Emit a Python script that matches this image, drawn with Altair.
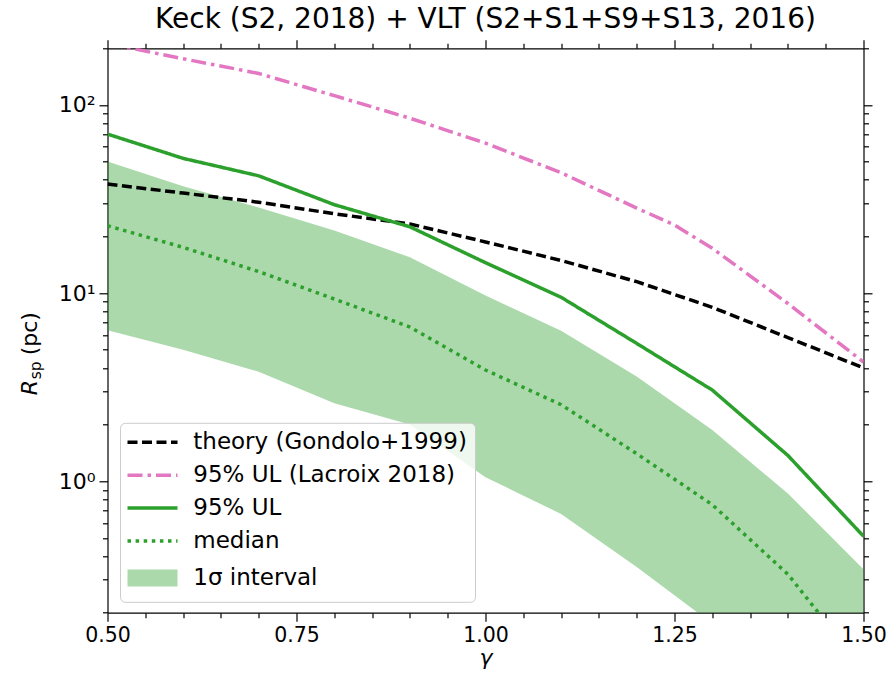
import altair as alt
import pandas as pd

# gamma grid of the scan and the curves drawn on it
gamma = [0.5, 0.6, 0.7, 0.8, 0.9, 1.0, 1.1, 1.2, 1.3, 1.4, 1.5]
theory = [38.0, 34.0, 30.4, 26.4, 23.3, 18.7, 14.9, 11.5, 8.4, 5.8, 4.0]
ul95 = [70.0, 52.0, 42.0, 29.5, 22.5, 14.5, 9.5, 5.4, 3.05, 1.37, 0.51]
median = [22.8, 17.5, 13.0, 9.3, 6.6, 3.9, 2.55, 1.4, 0.75, 0.32, 0.1]
band_lo = [6.35, 5.0, 3.82, 2.6, 2.0, 1.05, 0.67, 0.35, 0.175, 0.08, 0.035]
band_hi = [50.0, 37.0, 28.5, 21.5, 15.5, 9.7, 6.3, 3.6, 1.87, 0.86, 0.34]

lacroix_gamma = [0.5, 0.6, 0.7, 0.8, 0.9, 1.0, 1.1, 1.2, 1.25, 1.3, 1.4, 1.5]
lacroix = [212.0, 176.0, 147.0, 112.0, 85.0, 62.7, 43.6, 28.3, 23.0, 17.3, 8.8, 4.3]

labels = ["theory (Gondolo+1999)", "95% UL (Lacroix 2018)", "95% UL",
          "median", "1σ interval"]
colors = ["#000000", "#e377c2", "#2ca02c", "#2ca02c", "rgba(44,160,44,0.4)"]
# the band entry gets an all-gap dash so its legend swatch shows no outline
dashes = [[10, 4.5], [15, 5, 3.5, 5], [1, 0], [3.5, 4.6], [0, 1000]]

# tick positions (major ones carry labels)
x_major = [0.5, 0.75, 1.0, 1.25, 1.5]
x_minor = [0.55, 0.6, 0.65, 0.7, 0.8, 0.85, 0.9, 0.95,
           1.05, 1.1, 1.15, 1.2, 1.3, 1.35, 1.4, 1.45]
y_major = [1, 10, 100]
y_minor = [0.2, 0.3, 0.4, 0.5, 0.6, 0.7, 0.8, 0.9,
           2, 3, 4, 5, 6, 7, 8, 9,
           20, 30, 40, 50, 60, 70, 80, 90, 200]

lines = pd.concat([
    pd.DataFrame({"gamma": gamma, "R": theory, "series": labels[0]}),
    pd.DataFrame({"gamma": lacroix_gamma, "R": lacroix, "series": labels[1]}),
    pd.DataFrame({"gamma": gamma, "R": ul95, "series": labels[2]}),
    pd.DataFrame({"gamma": gamma, "R": median, "series": labels[3]}),
], ignore_index=True)
band = pd.DataFrame({"gamma": gamma, "lo": band_lo, "hi": band_hi,
                     "series": labels[4]})

FONT = "DejaVu Sans"
MAJOR, MINOR = 8.5, 5
x_scale = alt.Scale(domain=[0.5, 1.5], nice=False, zero=False)
y_scale = alt.Scale(type="log", domain=[0.2, 200], nice=False)
color_scale = alt.Scale(domain=labels, range=colors)
dash_scale = alt.Scale(domain=labels, range=dashes)


def tick_axis(orient, values, size, **kw):
    opts = dict(orient=orient, values=values, grid=False,
                domainColor="black", domainWidth=1.2,
                tickColor="black", tickWidth=1.2, tickSize=size)
    opts.update(kw)
    if "title" not in opts:
        opts["title"] = None
    return alt.Axis(**opts)


is_band = "datum.value == '1σ interval'"
legend = alt.Legend(
    title=None, orient="none", legendX=12.5, legendY=374.5,
    symbolType={"expr": f"{is_band} ? 'M-12.5,-4.25H12.5V4.25H-12.5Z' : 'M-12.5,0H12.5'"},
    symbolFillColor={"expr": f"{is_band} ? 'rgba(44,160,44,0.4)' : 'transparent'"},
    symbolSize=16, symbolStrokeWidth=3.5,
    symbolOffset=13, labelOffset=29.3, rowPadding=8.9, padding=8,
    labelFont=FONT, labelFontSize=23, labelColor="black", labelLimit=0,
    fillColor="rgba(255,255,255,0.8)", strokeColor="#cccccc", cornerRadius=5,
)

# shaded 1-sigma band, carrying the labelled bottom and left axes
band_layer = alt.Chart(band).mark_area(clip=True, opacity=1).encode(
    x=alt.X("gamma:Q", scale=x_scale, axis=tick_axis(
        "bottom", x_major, MAJOR,
        labelExpr="format(datum.value, '.2f')", labelFlush=False,
        labelFont=FONT, labelFontSize=20.5, labelColor="black",
        labelPadding=4, title="γ", titleFont=FONT, titleFontSize=22,
        titleFontStyle="italic", titleFontWeight="normal",
        titleColor="black", titlePadding=2)),
    y=alt.Y("lo:Q", scale=y_scale, axis=tick_axis(
        "left", y_major, MAJOR,
        labelExpr="datum.value == 1 ? '10⁰' : datum.value == 10 ? '10¹' : '10²'",
        labelFont=FONT, labelFontSize=22, labelColor="black",
        labelPadding=4)),
    y2="hi:Q",
    color=alt.Color("series:N", scale=color_scale, legend=legend),
)

# the four curves, carrying the top and right frame axes
line_layer = alt.Chart(lines).mark_line(clip=True, strokeWidth=3.5).encode(
    x=alt.X("gamma:Q", scale=x_scale,
            axis=tick_axis("top", x_major, MAJOR, labels=False)),
    y=alt.Y("R:Q", scale=y_scale,
            axis=tick_axis("right", y_major, MAJOR, labels=False)),
    color=alt.Color("series:N", scale=color_scale, legend=legend),
    strokeDash=alt.StrokeDash("series:N", scale=dash_scale, legend=legend),
)

# minor ticks on all four sides
minor_a = alt.Chart(band).mark_point(opacity=0, clip=True).encode(
    x=alt.X("gamma:Q", scale=x_scale,
            axis=tick_axis("bottom", x_minor, MINOR, labels=False, domain=False)),
    y=alt.Y("hi:Q", scale=y_scale,
            axis=tick_axis("left", y_minor, MINOR, labels=False, domain=False)),
)
minor_b = alt.Chart(band).mark_point(opacity=0, clip=True).encode(
    x=alt.X("gamma:Q", scale=x_scale,
            axis=tick_axis("top", x_minor, MINOR, labels=False, domain=False)),
    y=alt.Y("hi:Q", scale=y_scale,
            axis=tick_axis("right", y_minor, MINOR, labels=False, domain=False)),
)

# y-axis label: italic R with an upright "sp" subscript, then the unit
one = pd.DataFrame({"k": [0]})
ylab_r = alt.Chart(one).mark_text(
    text="R", font=FONT, fontSize=22, fontStyle="italic", angle=270,
    align="left", baseline="middle", color="black",
).encode(x=alt.value(-78), y=alt.value(347))
ylab_sub = alt.Chart(one).mark_text(
    text="sp", font=FONT, fontSize=15.5, angle=270,
    align="left", baseline="middle", color="black",
).encode(x=alt.value(-72), y=alt.value(331))
ylab_unit = alt.Chart(one).mark_text(
    text="(pc)", font=FONT, fontSize=22, angle=270,
    align="left", baseline="middle", color="black",
).encode(x=alt.value(-78), y=alt.value(307))

chart = alt.layer(
    band_layer, line_layer, minor_a, minor_b, ylab_r, ylab_sub, ylab_unit
).resolve_axis(
    x="independent", y="independent"
).properties(
    width=756, height=564.4,
    title=alt.TitleParams(
        "Keck (S2, 2018) + VLT (S2+S1+S9+S13, 2016)", font=FONT, fontSize=28,
        fontWeight="normal", color="black", anchor="middle", offset=5,
    ),
    autosize=alt.AutoSizeParams(type="none"),
    padding={"left": 107.5, "top": 48.3, "right": 30.5, "bottom": 64.3},
).configure_view(strokeWidth=0)

chart.save("out.html", embed_options={"renderer": "svg", "actions": False})
